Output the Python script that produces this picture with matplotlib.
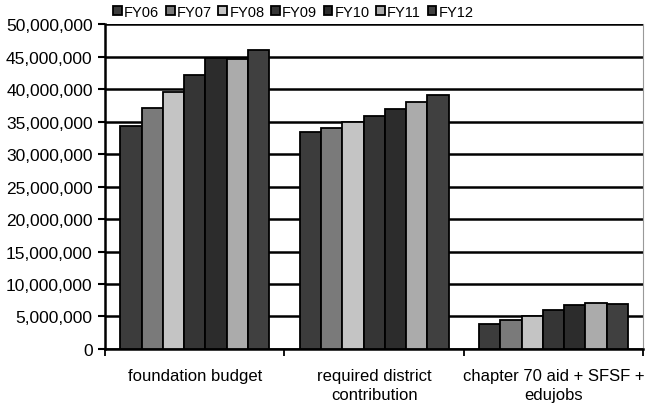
import numpy as np
import matplotlib
matplotlib.use("Agg")
import matplotlib.pyplot as plt
from matplotlib.ticker import FuncFormatter

plt.rcParams['font.family'] = ['Liberation Sans', 'DejaVu Sans']

# --------------------------------------------------
# Data
# --------------------------------------------------
categories = ["foundation budget", "required district\ncontribution",
              "chapter 70 aid + SFSF +\nedujobs"]
years = ["FY06", "FY07", "FY08", "FY09", "FY10", "FY11", "FY12"]
fy06 = [34.3e6, 33.4e6, 3.8e6]
fy07 = [37.1e6, 34.0e6, 4.4e6]
fy08 = [39.5e6, 34.9e6, 5.1e6]
fy09 = [42.2e6, 35.8e6, 6.0e6]
fy10 = [44.8e6, 36.9e6, 6.8e6]
fy11 = [44.6e6, 38.0e6, 7.1e6]
fy12 = [46.0e6, 39.1e6, 6.9e6]
series = [fy06, fy07, fy08, fy09, fy10, fy11, fy12]
colors = ["#3c3c3c", "#7a7a7a", "#c4c4c4", "#353535", "#2c2c2c", "#ababab", "#404040"]

# --------------------------------------------------
# Plot
# --------------------------------------------------
fig = plt.figure(figsize=(6.49, 4.06), dpi=100)
ax = fig.add_axes([0.162, 0.138, 0.829, 0.8])

x = np.arange(len(categories))
n = len(series)
bw = 0.83 / n
for i, (vals, c, lab) in enumerate(zip(series, colors, years)):
    ax.bar(x - 0.415 + bw * (i + 0.5), vals, width=bw, color=c,
           edgecolor="black", linewidth=1.3, label=lab, zorder=3)

ax.set_xlim(-0.5, 2.5)
ax.set_ylim(0, 50e6)
ax.set_yticks(np.arange(0, 50e6 + 1, 5e6))
ax.yaxis.set_major_formatter(FuncFormatter(lambda v, p: f"{int(v):,}"))
ax.set_xticks(x)
ax.set_xticklabels(categories, linespacing=1.3)
ax.set_xticks([-0.5, 0.5, 1.5, 2.5], minor=True)
ax.tick_params(axis="x", which="major", length=0, pad=14, labelsize=12)
ax.tick_params(axis="x", which="minor", length=5, width=1.3, color="black")
ax.tick_params(axis="y", length=5, width=1.5, labelsize=12.5, pad=4)

ax.grid(axis="y", color="black", linewidth=1.8, zorder=0)
ax.spines["top"].set_visible(False)
ax.spines["right"].set_color("#999999")
ax.spines["right"].set_linewidth(0.8)
ax.spines["left"].set_linewidth(1.8)
ax.spines["bottom"].set_linewidth(1.8)

leg = fig.legend(loc="center", bbox_to_anchor=(0.452, 0.968), ncol=7,
                 frameon=False, fontsize=10.5, handlelength=0.6,
                 handleheight=0.6, handletextpad=0.15, columnspacing=0.45,
                 borderpad=0.1)

plt.savefig("out.png", dpi=100)
